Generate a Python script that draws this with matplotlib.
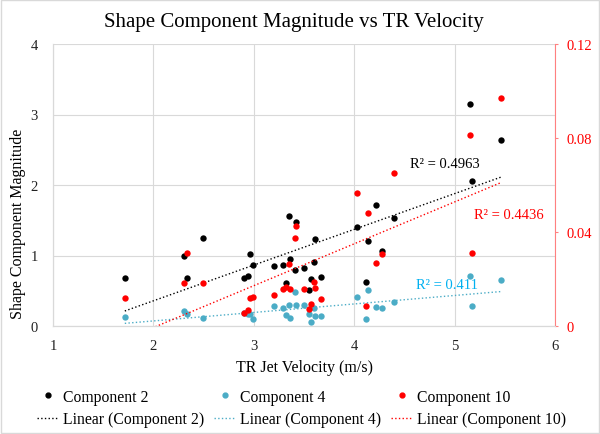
import matplotlib
matplotlib.use("Agg")
import matplotlib.pyplot as plt
import numpy as np
from matplotlib.patches import Rectangle
from matplotlib.lines import Line2D

plt.rcParams['font.family'] = ['Liberation Serif', 'DejaVu Serif']

velocity = [1.715, 2.305, 2.335, 2.494, 2.907, 2.947, 2.967, 2.993, 3.205, 3.294,
            3.324, 3.354, 3.357, 3.407, 3.420, 3.496, 3.546, 3.566, 3.599, 3.605,
            3.668, 4.023, 4.122, 4.135, 4.215, 4.281, 4.397, 5.155, 5.175, 5.463]
comp2 = [0.687, 0.994, 0.687, 1.250, 0.678, 0.716, 1.028, 0.872, 0.857, 0.872,
         0.616, 1.563, 0.952, 0.796, 1.478, 0.820, 0.511, 0.663, 0.905, 1.227,
         0.700, 1.402, 0.630, 1.203, 1.719, 1.065, 1.534, 3.153, 2.060, 2.633]
comp4 = [0.133, 0.213, 0.166, 0.119, 0.180, 0.166, 0.166, 0.095, 0.284, 0.261,
         0.152, 0.298, 0.114, 0.483, 0.304, 0.304, 0.166, 0.062, 0.261, 0.142,
         0.142, 0.417, 0.100, 0.507, 0.275, 0.251, 0.336, 0.716, 0.284, 0.653]
comp10 = [0.0119, 0.0185, 0.0310, 0.0185, 0.0057, 0.0068, 0.0118, 0.0124, 0.0132, 0.0159,
          0.0165, 0.0262, 0.0159, 0.0374, 0.0425, 0.0156, 0.0074, 0.0092, 0.0189, 0.0161,
          0.0115, 0.0568, 0.0083, 0.0481, 0.0266, 0.0308, 0.0653, 0.0812, 0.0311, 0.0971]
r2_labels = ["R² = 0.4963", "R² = 0.411", "R² = 0.4436"]

C_BLACK = "#000000"
C_BLUE = "#4BACC6"
C_RED = "#FF0000"
C_BLUE_TXT = "#00B0F0"
GRID = "#D9D9D9"

fig = plt.figure(figsize=(6, 4.35), dpi=100)
fig.patches.append(Rectangle((0.002, 0.002), 0.996, 0.996, transform=fig.transFigure,
                             fill=False, edgecolor=GRID, linewidth=1.0))
ax = fig.add_axes([53/600, 1-327/435, (555-53)/600, (327-45)/435])
ax2 = ax.twinx()

x = np.array(velocity)
xl = np.array([x.min(), x.max()])

ax.scatter(x, comp2, s=21, color=C_BLACK, zorder=3, linewidths=0)
ax.scatter(x, comp4, s=21, color=C_BLUE, zorder=3, linewidths=0)
ax2.scatter(x, comp10, s=21, color=C_RED, zorder=3, linewidths=0)

p2 = np.polyfit(x, comp2, 1)
p4 = np.polyfit(x, comp4, 1)
p10 = np.polyfit(x, comp10, 1)
ax.plot(xl, np.polyval(p2, xl), ls=':', color=C_BLACK, lw=1.0, zorder=2)
ax.plot(xl, np.polyval(p4, xl), ls=':', color=C_BLUE, lw=1.0, zorder=2)
ax2.plot(xl, np.polyval(p10, xl), ls=':', color=C_RED, lw=1.0, zorder=2)

ax.set_xlim(1, 6)
ax.set_ylim(0, 4)
ax2.set_ylim(0, 0.12)
ax.set_xticks([1, 2, 3, 4, 5, 6])
ax.set_yticks([0, 1, 2, 3, 4])
ax2.set_yticks([0, 0.04, 0.08, 0.12])
ax2.set_yticklabels(["0", "0.04", "0.08", "0.12"])
ax.grid(True, color=GRID, lw=0.8)
ax.set_axisbelow(True)

for a in (ax, ax2):
    a.spines['top'].set_visible(False)
    a.spines['left'].set_color(GRID)
    a.spines['bottom'].set_color(GRID)
    a.spines['right'].set_visible(False)
ax2.spines['right'].set_visible(True)
ax2.spines['right'].set_color("#FF8080")
ax.tick_params(axis='y', length=0, labelsize=10.5, pad=11, colors='#222222')
ax.tick_params(axis='x', length=0, labelsize=10.5, pad=9.5, colors='#222222')
ax2.tick_params(axis='y', length=2.5, color="#FF8080", labelcolor=C_RED, labelsize=10.5, pad=6)

fig.text(0.49, 1 - 23/435, "Shape Component Magnitude vs TR Velocity", fontsize=15,
         ha='center', va='center')
ax.set_xlabel("TR Jet Velocity (m/s)", fontsize=11.5, labelpad=5)
fig.text(18.3/600, 1 - 224/435, "Shape Component Magnitude", fontsize=11.5, rotation=90,
         ha='center', va='center')

ax.text(4.90, 2.30, r2_labels[0], color=C_BLACK, fontsize=10.5, ha='center', va='center')
ax.text(4.92, 0.593, r2_labels[1], color=C_BLUE_TXT, fontsize=10.5, ha='center', va='center')
ax.text(5.54, 1.587, r2_labels[2], color=C_RED, fontsize=10.5, ha='center', va='center')

handles = [
    Line2D([], [], ls='none', marker='o', color=C_BLACK, markersize=3.5),
    Line2D([], [], ls=':', color=C_BLACK, lw=1.0),
    Line2D([], [], ls='none', marker='o', color=C_BLUE, markersize=3.5),
    Line2D([], [], ls=':', color=C_BLUE, lw=1.0),
    Line2D([], [], ls='none', marker='o', color=C_RED, markersize=3.5),
    Line2D([], [], ls=':', color=C_RED, lw=1.0),
]
labels = ["Component 2", "Linear (Component 2)", "Component 4", "Linear (Component 4)",
          "Component 10", "Linear (Component 10)"]
fig.legend(handles, labels, ncol=3, loc='center', bbox_to_anchor=(301.5/600, 1 - 409/435),
           frameon=False, fontsize=11.3, handlelength=1.4, handletextpad=0.25,
           columnspacing=0.62, labelspacing=0.4, borderpad=0, borderaxespad=0)

fig.savefig("out.png", dpi=100)
